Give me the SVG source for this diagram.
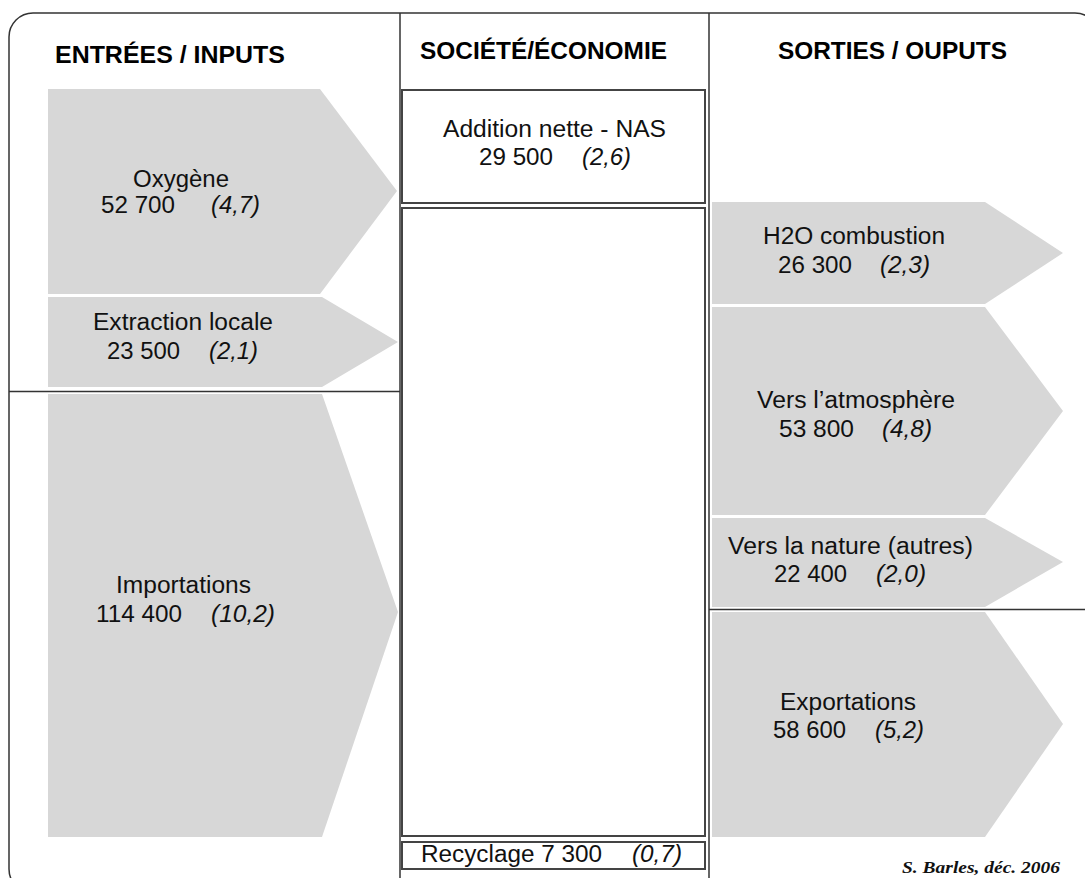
<svg xmlns="http://www.w3.org/2000/svg" width="1085" height="878" viewBox="0 0 1085 878">
<style>
.frame{fill:none;stroke:#333;stroke-width:1.5}
.sep{stroke:#333;stroke-width:1.5;fill:none}
.box{fill:#fff;stroke:#444;stroke-width:2}
.flow{fill:#d7d7d7;stroke:none}
.hdr{font-family:"Liberation Sans",Arial,sans-serif;font-weight:bold;font-size:23px;fill:#000}
.lbl{font-family:"Liberation Sans",Arial,sans-serif;font-size:23px;fill:#111}
.it{font-style:italic}
.sig{font-family:"Liberation Serif","Times New Roman",serif;font-weight:bold;font-style:italic;font-size:17px;fill:#111}
</style>
<rect width="1085" height="878" fill="#fff"/>
<g id="frame">
<rect class="frame" x="9" y="13" width="1090" height="880" rx="24" ry="24"/>
<line class="sep" x1="400" y1="13" x2="400" y2="878"/>
<line class="sep" x1="709" y1="13" x2="709" y2="878"/>
<line class="sep" x1="9" y1="391.5" x2="400" y2="391.5"/>
<line class="sep" x1="709" y1="609.5" x2="1085" y2="609.5"/>
</g>
<g id="headers">
<text class="hdr" x="55" y="63" textLength="230" lengthAdjust="spacingAndGlyphs">ENTRÉES / INPUTS</text>
<text class="hdr" x="420" y="59" textLength="247" lengthAdjust="spacingAndGlyphs">SOCIÉTÉ/ÉCONOMIE</text>
<text class="hdr" x="778" y="59" textLength="229" lengthAdjust="spacingAndGlyphs">SORTIES / OUPUTS</text>
</g>
<g id="oxygene">
<polygon class="flow" points="48,89 320,89 397,191 320,294 48,294"/>
<text class="lbl" y="187"><tspan x="133" textLength="96" lengthAdjust="spacingAndGlyphs">Oxygène</tspan></text>
<text class="lbl" y="213"><tspan x="101" textLength="74" lengthAdjust="spacingAndGlyphs">52 700</tspan><tspan class="it" x="211" textLength="49" lengthAdjust="spacingAndGlyphs">(4,7)</tspan></text>
</g>
<g id="extraction">
<polygon class="flow" points="48,297 322,297 398,342 322,387 48,387"/>
<text class="lbl" y="330"><tspan x="93" textLength="180" lengthAdjust="spacingAndGlyphs">Extraction locale</tspan></text>
<text class="lbl" y="359"><tspan x="107" textLength="73" lengthAdjust="spacingAndGlyphs">23 500</tspan><tspan class="it" x="209" textLength="49" lengthAdjust="spacingAndGlyphs">(2,1)</tspan></text>
</g>
<g id="importations">
<polygon class="flow" points="48,394 322,394 398,612 322,837 48,837"/>
<text class="lbl" y="593"><tspan x="116" textLength="135" lengthAdjust="spacingAndGlyphs">Importations</tspan></text>
<text class="lbl" y="622"><tspan x="96" textLength="86" lengthAdjust="spacingAndGlyphs">114 400</tspan><tspan class="it" x="211" textLength="64" lengthAdjust="spacingAndGlyphs">(10,2)</tspan></text>
</g>
<g id="nas">
<rect class="box" x="402" y="90" width="303" height="113"/>
<text class="lbl" y="137"><tspan x="443" textLength="223" lengthAdjust="spacingAndGlyphs">Addition nette - NAS</tspan></text>
<text class="lbl" y="165"><tspan x="479" textLength="74" lengthAdjust="spacingAndGlyphs">29 500</tspan><tspan class="it" x="582" textLength="49" lengthAdjust="spacingAndGlyphs">(2,6)</tspan></text>
</g>
<g id="societe">
<rect class="box" x="402" y="208" width="303" height="628"/>
</g>
<g id="recyclage">
<rect class="box" x="402" y="842" width="303" height="27"/>
<text class="lbl" y="862"><tspan x="421" textLength="181" lengthAdjust="spacingAndGlyphs">Recyclage 7 300</tspan><tspan class="it" x="632" textLength="50" lengthAdjust="spacingAndGlyphs">(0,7)</tspan></text>
</g>
<g id="h2o">
<polygon class="flow" points="712,202 985,202 1063,253 985,304 712,304"/>
<text class="lbl" y="244"><tspan x="763" textLength="182" lengthAdjust="spacingAndGlyphs">H2O combustion</tspan></text>
<text class="lbl" y="273"><tspan x="778" textLength="74" lengthAdjust="spacingAndGlyphs">26 300</tspan><tspan class="it" x="880" textLength="50" lengthAdjust="spacingAndGlyphs">(2,3)</tspan></text>
</g>
<g id="atmosphere">
<polygon class="flow" points="712,307 985,307 1063,411 985,515 712,515"/>
<text class="lbl" y="408"><tspan x="757" textLength="198" lengthAdjust="spacingAndGlyphs">Vers l’atmosphère</tspan></text>
<text class="lbl" y="437"><tspan x="779" textLength="75" lengthAdjust="spacingAndGlyphs">53 800</tspan><tspan class="it" x="882" textLength="50" lengthAdjust="spacingAndGlyphs">(4,8)</tspan></text>
</g>
<g id="nature">
<polygon class="flow" points="712,518 985,518 1063,562 985,607 712,607"/>
<text class="lbl" y="554"><tspan x="728" textLength="245" lengthAdjust="spacingAndGlyphs">Vers la nature (autres)</tspan></text>
<text class="lbl" y="582"><tspan x="774" textLength="73" lengthAdjust="spacingAndGlyphs">22 400</tspan><tspan class="it" x="876" textLength="50" lengthAdjust="spacingAndGlyphs">(2,0)</tspan></text>
</g>
<g id="exportations">
<polygon class="flow" points="712,612 985,612 1063,724 985,837 712,837"/>
<text class="lbl" y="710"><tspan x="780" textLength="136" lengthAdjust="spacingAndGlyphs">Exportations</tspan></text>
<text class="lbl" y="738"><tspan x="773" textLength="73" lengthAdjust="spacingAndGlyphs">58 600</tspan><tspan class="it" x="875" textLength="49" lengthAdjust="spacingAndGlyphs">(5,2)</tspan></text>
</g>
<g id="signature">
<text class="sig" x="902" y="873" textLength="158" lengthAdjust="spacingAndGlyphs">S. Barles, déc. 2006</text>
</g>
<g id="connectors"></g>
</svg>
